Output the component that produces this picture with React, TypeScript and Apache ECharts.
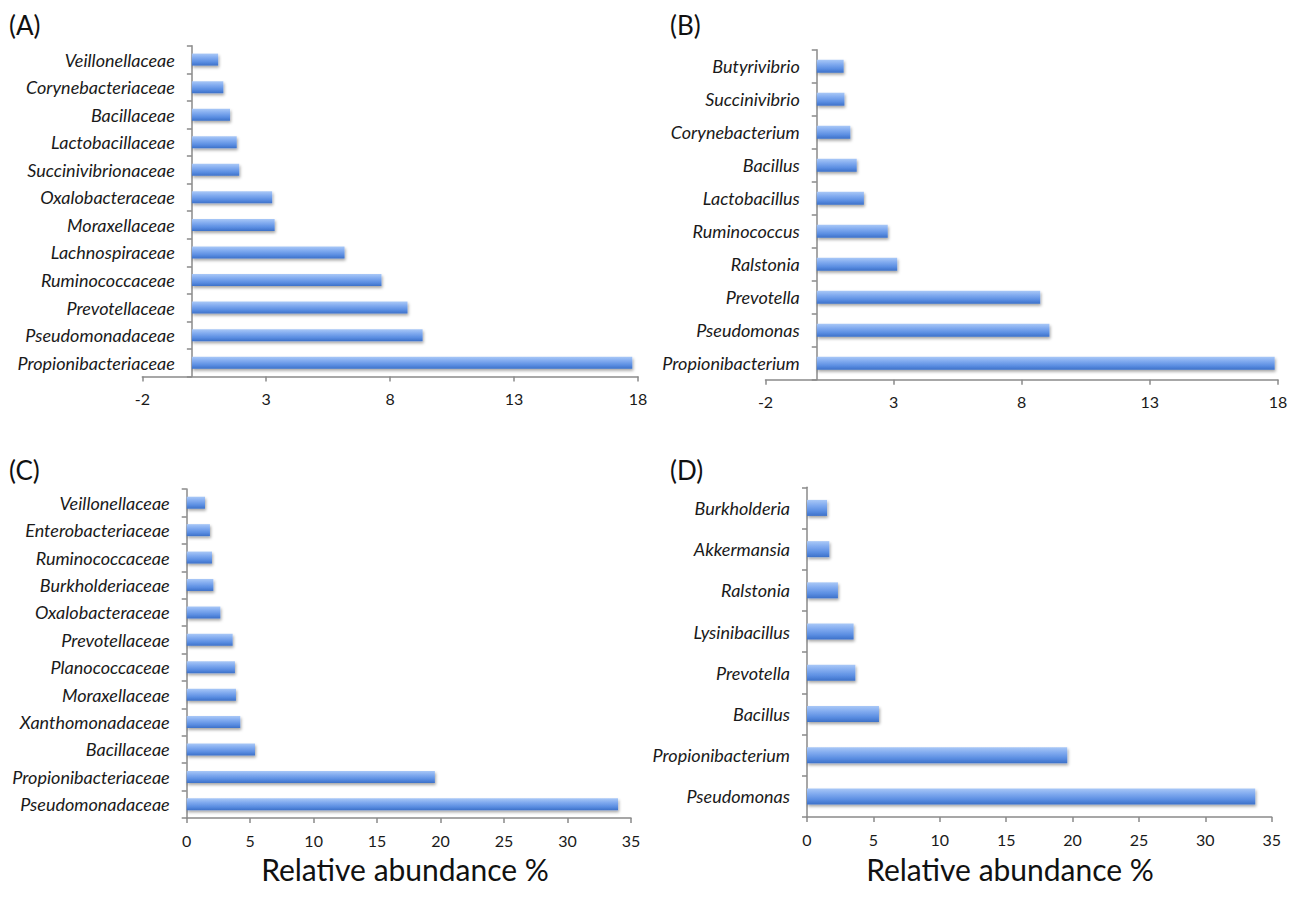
import React, { useEffect, useRef } from "react";
import * as echarts from "echarts";

const catA = ["Veillonellaceae", "Corynebacteriaceae", "Bacillaceae", "Lactobacillaceae", "Succinivibrionaceae", "Oxalobacteraceae", "Moraxellaceae", "Lachnospiraceae", "Ruminococcaceae", "Prevotellaceae", "Pseudomonadaceae", "Propionibacteriaceae"];
const valA = [1.06, 1.27, 1.54, 1.81, 1.91, 3.24, 3.34, 6.16, 7.65, 8.7, 9.31, 17.77];

const catB = ["Butyrivibrio", "Succinivibrio", "Corynebacterium", "Bacillus", "Lactobacillus", "Ruminococcus", "Ralstonia", "Prevotella", "Pseudomonas", "Propionibacterium"];
const valB = [1.05, 1.08, 1.31, 1.56, 1.84, 2.77, 3.14, 8.72, 9.08, 17.87];

const catC = ["Veillonellaceae", "Enterobacteriaceae", "Ruminococcaceae", "Burkholderiaceae", "Oxalobacteraceae", "Prevotellaceae", "Planococcaceae", "Moraxellaceae", "Xanthomonadaceae", "Bacillaceae", "Propionibacteriaceae", "Pseudomonadaceae"];
const valC = [1.44, 1.83, 1.99, 2.1, 2.65, 3.62, 3.8, 3.88, 4.22, 5.38, 19.55, 33.98];

const catD = ["Burkholderia", "Akkermansia", "Ralstonia", "Lysinibacillus", "Prevotella", "Bacillus", "Propionibacterium", "Pseudomonas"];
const valD = [1.51, 1.68, 2.33, 3.51, 3.64, 5.42, 19.6, 33.76];

const panelLabels = ["(A)", "(B)", "(C)", "(D)"];
const xTitle = "Relative abundance %";

const FONT = "Lato, 'Open Sans', sans-serif";
const AXIS_COLOR = "#8a8a8a";

export default function App() {
  const ref = useRef<HTMLDivElement>(null);

  useEffect(() => {
    if (!ref.current) return;
    const chart = echarts.init(ref.current, undefined, { renderer: "svg" });

    const barColor = new echarts.graphic.LinearGradient(0, 0, 0, 1, [
      { offset: 0, color: "#a9c8f7" },
      { offset: 0.35, color: "#80aaef" },
      { offset: 0.7, color: "#5b8ee2" },
      { offset: 1, color: "#3d71c9" },
    ]);

    const grids = [
      { left: 142.3, top: 45.8, width: 495.7, height: 330.7 },
      { left: 765.5, top: 49.7, width: 512.5, height: 330 },
      { left: 186.7, top: 489, width: 444.3, height: 329 },
      { left: 807, top: 487.3, width: 464.7, height: 329.7 },
    ];
    const cats = [catA, catB, catC, catD];
    const vals = [valA, valB, valC, valD];
    const ranges = [
      { min: -2, max: 18, interval: 5 },
      { min: -2, max: 18, interval: 5 },
      { min: 0, max: 35, interval: 5 },
      { min: 0, max: 35, interval: 5 },
    ];
    const barWidths = [12, 13, 12, 16];

    const xAxes = ranges.map((r, i) => ({
      type: "value",
      gridIndex: i,
      min: r.min,
      max: r.max,
      interval: r.interval,
      splitLine: { show: false },
      axisLine: { show: true, onZero: false, lineStyle: { color: AXIS_COLOR, width: 1.5 } },
      axisTick: { show: true, length: 5, lineStyle: { color: AXIS_COLOR, width: 1.5 } },
      axisLabel: { margin: 14, fontSize: 16, color: "#1a1a1a", fontFamily: FONT },
    }));

    // y axis sits on value 0 of the x axis
    const yAxes = cats.map((c, i) => {
      const g = grids[i];
      const r = ranges[i];
      const zeroOffset = ((0 - r.min) / (r.max - r.min)) * g.width;
      return {
        type: "category",
        gridIndex: i,
        data: c,
        inverse: true,
        offset: -zeroOffset,
        axisLine: { show: true, onZero: false, lineStyle: { color: AXIS_COLOR, width: 1.5 } },
        axisTick: { show: true, length: 5, lineStyle: { color: AXIS_COLOR, width: 1.5 } },
        axisLabel: { margin: 17, fontSize: 18, fontStyle: "italic", color: "#1a1a1a", fontFamily: FONT, interval: 0 },
        splitLine: { show: false },
      };
    });

    const series = vals.map((v, i) => ({
      type: "bar",
      xAxisIndex: i,
      yAxisIndex: i,
      data: v,
      barWidth: barWidths[i],
      itemStyle: {
        color: barColor,
        shadowColor: "rgba(0,0,0,0.35)",
        shadowBlur: 3,
        shadowOffsetX: 1,
        shadowOffsetY: 2,
      },
    }));

    const labelPos = [
      [9, 25],
      [670, 25],
      [9, 470],
      [670, 470],
    ];

    const graphic: any[] = labelPos.map((p, i) => ({
      type: "text",
      x: p[0],
      y: p[1],
      style: { text: panelLabels[i], fontSize: 26, fontFamily: FONT, fill: "#111", verticalAlign: "middle" },
    }));
    graphic.push({
      type: "text",
      x: 405,
      y: 869,
      style: { text: xTitle, fontSize: 30, fontFamily: FONT, fill: "#111", align: "center", verticalAlign: "middle" },
    });
    graphic.push({
      type: "text",
      x: 1010,
      y: 869,
      style: { text: xTitle, fontSize: 30, fontFamily: FONT, fill: "#111", align: "center", verticalAlign: "middle" },
    });

    chart.setOption({
      animation: false,
      backgroundColor: "#ffffff",
      grid: grids.map((g) => ({ ...g, containLabel: false, outerBoundsMode: "none" })),
      xAxis: xAxes,
      yAxis: yAxes,
      series,
      graphic,
    });

    return () => chart.dispose();
  }, []);

  return (
    <div
      ref={ref}
      style={{ position: "fixed", left: 0, top: 0, width: 1299, height: 906, background: "#fff" }}
    />
  );
}
